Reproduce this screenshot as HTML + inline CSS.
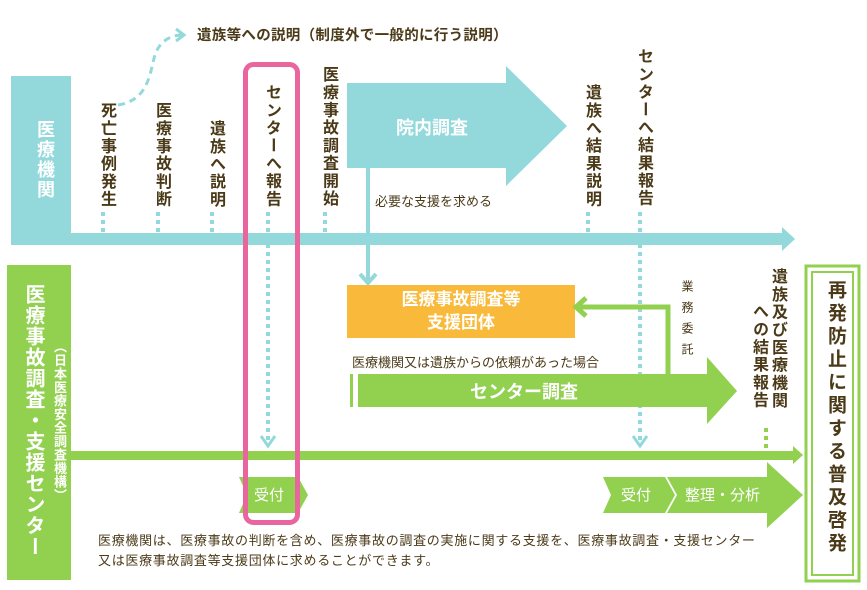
<!DOCTYPE html>
<html><head><meta charset="utf-8"><style>
body{margin:0;width:867px;height:590px;background:#fff;position:relative;overflow:hidden;font-family:"Liberation Sans","Noto Sans CJK JP",sans-serif;color:#4b3a18}
.v{position:absolute;writing-mode:vertical-rl;text-orientation:upright;font-weight:bold;white-space:nowrap}
.t{position:absolute;white-space:nowrap}
svg{position:absolute;left:0;top:0}
</style></head><body>
<svg width="867" height="590">
<rect x="11" y="76" width="60" height="169" fill="#93d9dc"/>
<rect x="11" y="233" width="773" height="12" fill="#93d9dc"/>
<polygon points="782,227 795,239 782,251" fill="#93d9dc"/>
<path d="M118,105 C150,100 150,70 155,55 C160,40 172,35 182,35" fill="none" stroke="#93d9dc" stroke-width="3" stroke-dasharray="7,5"/>
<polyline points="176,29 184,35 176,41" fill="none" stroke="#93d9dc" stroke-width="3"/>
<g stroke="#93d9dc" stroke-width="4" stroke-dasharray="4,4">
<line x1="103" y1="212" x2="103" y2="233"/>
<line x1="158" y1="212" x2="158" y2="233"/>
<line x1="212" y1="212" x2="212" y2="233"/>
<line x1="325" y1="212" x2="325" y2="233"/>
<line x1="588" y1="212" x2="588" y2="233"/>
<line x1="268" y1="212" x2="268" y2="446"/>
<line x1="640" y1="212" x2="640" y2="446"/>
</g>
<polyline points="261,436 268,446 275,436" fill="none" stroke="#93d9dc" stroke-width="3"/>
<polyline points="633,436 640,446 647,436" fill="none" stroke="#93d9dc" stroke-width="3"/>
<polygon points="347,83 506,83 506,66 567,126 506,186 506,168 347,168" fill="#93d9dc"/>
<line x1="368" y1="168" x2="368" y2="282" stroke="#93d9dc" stroke-width="4"/>
<polyline points="360,274 368,283 376,274" fill="none" stroke="#93d9dc" stroke-width="4"/>
<rect x="347" y="285" width="228" height="53" fill="#f9b93a"/>
<rect x="7" y="265" width="64" height="315" fill="#92d050"/>
<rect x="71" y="451" width="724" height="9" fill="#92d050"/>
<polygon points="793,446 803,455 793,464" fill="#92d050"/>
<polyline points="668,375 668,307 580,307" fill="none" stroke="#92d050" stroke-width="5"/>
<polyline points="586,298 576,307 586,316" fill="none" stroke="#92d050" stroke-width="5"/>
<polygon points="358,374 707,374 707,357 737,391 707,424 707,407 358,407" fill="#92d050"/>
<rect x="350" y="374" width="3" height="33" fill="#92d050"/>
<line x1="766" y1="428" x2="766" y2="450" stroke="#92d050" stroke-width="4" stroke-dasharray="4,4"/>
<polygon points="239,477 298,477 308,495 298,513 239,513 247,495" fill="#92d050"/>
<polygon points="603,477 665,477 675,495 665,513 603,513 611,495" fill="#92d050"/>
<polygon points="667,477 767,477 767,462 803,495 767,528 767,513 667,513 677,495" fill="#92d050"/>
<rect x="806" y="266" width="53" height="315" fill="none" stroke="#92d050" stroke-width="3"/>
<rect x="812" y="272" width="41" height="303" fill="none" stroke="#92d050" stroke-width="2"/>
<rect x="245.5" y="64.5" width="52" height="458" rx="8" fill="none" stroke="#e8659e" stroke-width="5"/>
</svg>

<div class="t" style="left:197px;top:24px;font-size:14.5px;font-weight:bold;letter-spacing:0.3px">遺族等への説明（制度外で一般的に行う説明）</div>
<div class="v" style="left:32px;top:120px;font-size:18px;color:#fff;letter-spacing:2px">医療機関</div>
<div class="v" style="left:94px;top:102px;font-size:16px;letter-spacing:1.7px">死亡事例発生</div>
<div class="v" style="left:149px;top:102px;font-size:16px;letter-spacing:1.7px">医療事故判断</div>
<div class="v" style="left:203px;top:120px;font-size:16px;letter-spacing:1.7px">遺族へ説明</div>
<div class="v" style="left:259px;top:84px;font-size:16px;letter-spacing:1.7px">センターへ報告</div>
<div class="v" style="left:316px;top:66px;font-size:16px;letter-spacing:1.7px">医療事故調査開始</div>
<div class="v" style="left:579px;top:84px;font-size:16px;letter-spacing:1.7px">遺族へ結果説明</div>
<div class="v" style="left:631px;top:48px;font-size:16px;letter-spacing:1.7px">センターへ結果報告</div>
<div class="t" style="left:396px;top:114px;font-size:18px;font-weight:bold;color:#fff">院内調査</div>
<div class="t" style="left:375px;top:191px;font-size:13px">必要な支援を求める</div>
<div class="t" style="left:347px;top:288px;width:228px;text-align:center;font-size:17px;font-weight:bold;color:#fff;line-height:23px">医療事故調査等<br>支援団体</div>
<div class="v" style="left:679px;top:280px;font-size:12px;font-weight:normal;letter-spacing:9px">業務委託</div>
<div class="t" style="left:352px;top:352px;font-size:13px">医療機関又は遺族からの依頼があった場合</div>
<div class="t" style="left:470px;top:378px;font-size:18px;font-weight:bold;color:#fff">センター調査</div>
<div class="v" style="left:765px;top:268px;font-size:16px;letter-spacing:1.7px">遺族及び医療機関</div>
<div class="v" style="left:746px;top:303px;font-size:16px;letter-spacing:1.7px">への結果報告</div>
<div class="t" style="left:254px;top:484px;font-size:15px;color:#fff">受付</div>
<div class="t" style="left:621px;top:484px;font-size:15px;color:#fff">受付</div>
<div class="t" style="left:685px;top:484px;font-size:15px;color:#fff">整理・分析</div>
<div class="v" style="left:19px;top:284px;font-size:20px;color:#fff;letter-spacing:1px">医療事故調査・支援センター</div>
<div class="v" style="left:50px;top:340px;font-size:13px;color:#fff;letter-spacing:0.5px">（日本医療安全調査機構）</div>
<div class="v" style="left:822px;top:280px;font-size:19px;letter-spacing:4px">再発防止に関する普及啓発</div>
<div class="t" style="left:98px;top:531px;font-size:13px;letter-spacing:0.7px;line-height:20px">医療機関は、医療事故の判断を含め、医療事故の調査の実施に関する支援を、医療事故調査・支援センター<br>又は医療事故調査等支援団体に求めることができます。</div>
</body></html>
